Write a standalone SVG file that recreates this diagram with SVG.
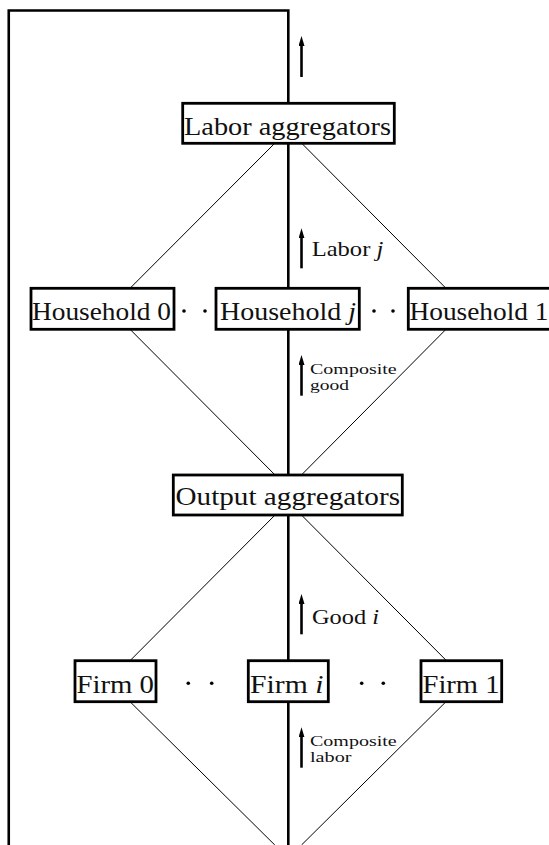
<svg xmlns="http://www.w3.org/2000/svg" width="549" height="845" viewBox="0 0 549 845">
<style>
.thick{stroke:#000;stroke-width:2.6;fill:none}
.thin{stroke:#000;stroke-width:1;fill:none}
.box{fill:#fff;stroke:#000;stroke-width:2.8}
.big{font-family:"Liberation Serif","Times New Roman",serif;font-size:26px;fill:#111}
.mid{font-family:"Liberation Serif","Times New Roman",serif;font-size:21px;fill:#111}
.sm{font-family:"Liberation Serif","Times New Roman",serif;font-size:14px;fill:#111}
.dot{fill:#000}
</style>
<defs>
<marker id="ah" viewBox="0 0 10 6" refX="3" refY="3" markerWidth="10" markerHeight="6" markerUnits="userSpaceOnUse" orient="auto">
<path d="M0,0 L10,3 L0,6 z" fill="#000"/>
</marker>
</defs>
<g id="connectors">
<path class="thick" d="M8.75,845 V10.5 H288.3 V845"/>
<line class="thin" x1="288" y1="130" x2="130" y2="288.3"/>
<line class="thin" x1="288.5" y1="130" x2="446" y2="288.3"/>
<line class="thin" x1="130" y1="329.3" x2="288" y2="488"/>
<line class="thin" x1="446" y1="329.3" x2="288.5" y2="488"/>
<line class="thin" x1="288" y1="502" x2="130" y2="660.7"/>
<line class="thin" x1="288.5" y1="502" x2="446.5" y2="660.7"/>
<line class="thin" x1="130" y1="701.7" x2="274.8" y2="845"/>
<line class="thin" x1="446" y1="701.7" x2="301.5" y2="845"/>
<line class="thick" x1="301.5" y1="77" x2="301.5" y2="43" marker-end="url(#ah)"/>
<line class="thick" x1="301.5" y1="268.3" x2="301.5" y2="235.3" marker-end="url(#ah)"/>
<line class="thick" x1="301.5" y1="395.7" x2="301.5" y2="362" marker-end="url(#ah)"/>
<line class="thick" x1="301.5" y1="634.3" x2="301.5" y2="601" marker-end="url(#ah)"/>
<line class="thick" x1="301.5" y1="767.7" x2="301.5" y2="734.3" marker-end="url(#ah)"/>
</g>
<g id="labels">
<text class="mid" x="311.7" y="256" textLength="71.6" lengthAdjust="spacingAndGlyphs">Labor <tspan font-style="italic">j</tspan></text>
<text class="sm" x="310" y="373.5" textLength="86.7" lengthAdjust="spacingAndGlyphs">Composite</text>
<text class="sm" x="310" y="389.5" textLength="39" lengthAdjust="spacingAndGlyphs">good</text>
<text class="mid" x="312" y="624" textLength="67" lengthAdjust="spacingAndGlyphs">Good <tspan font-style="italic">i</tspan></text>
<text class="sm" x="310" y="746" textLength="86.7" lengthAdjust="spacingAndGlyphs">Composite</text>
<text class="sm" x="310" y="762" textLength="41.5" lengthAdjust="spacingAndGlyphs">labor</text>
</g>
<g id="labor-aggregators">
<rect class="box" x="182.7" y="103.3" width="211.6" height="40"/>
<text class="big" x="184" y="134.5" textLength="207" lengthAdjust="spacingAndGlyphs">Labor aggregators</text>
</g>
<g id="household-0">
<rect class="box" x="31" y="288.3" width="143" height="41"/>
<text class="big" x="32" y="319.5" textLength="139" lengthAdjust="spacingAndGlyphs">Household 0</text>
</g>
<g id="household-j">
<rect class="box" x="216" y="288.3" width="143.3" height="41"/>
<text class="big" x="220" y="319.5" textLength="136" lengthAdjust="spacingAndGlyphs">Household <tspan font-style="italic">j</tspan></text>
</g>
<g id="household-1">
<rect class="box" x="408.3" y="288.3" width="145" height="41"/>
<text class="big" x="409.5" y="319.5" textLength="139" lengthAdjust="spacingAndGlyphs">Household 1</text>
</g>
<g id="household-dots">
<circle class="dot" cx="184" cy="311" r="1.8"/>
<circle class="dot" cx="205" cy="311" r="1.8"/>
<circle class="dot" cx="374" cy="311" r="1.8"/>
<circle class="dot" cx="393" cy="311" r="1.8"/>
</g>
<g id="output-aggregators">
<rect class="box" x="173.3" y="475" width="229" height="40"/>
<text class="big" x="175.5" y="505" textLength="224.5" lengthAdjust="spacingAndGlyphs">Output aggregators</text>
</g>
<g id="firm-0">
<rect class="box" x="75" y="660.7" width="81" height="41"/>
<text class="big" x="76.5" y="692.5" textLength="77.5" lengthAdjust="spacingAndGlyphs">Firm 0</text>
</g>
<g id="firm-i">
<rect class="box" x="248.3" y="660.7" width="80" height="41"/>
<text class="big" x="250" y="692.5" textLength="73.5" lengthAdjust="spacingAndGlyphs">Firm <tspan font-style="italic">i</tspan></text>
</g>
<g id="firm-1">
<rect class="box" x="421" y="660.7" width="80.7" height="41"/>
<text class="big" x="422.5" y="692.5" textLength="77" lengthAdjust="spacingAndGlyphs">Firm 1</text>
</g>
<g id="firm-dots">
<circle class="dot" cx="188.3" cy="683.3" r="1.8"/>
<circle class="dot" cx="211.7" cy="683.3" r="1.8"/>
<circle class="dot" cx="361.7" cy="683.3" r="1.8"/>
<circle class="dot" cx="383.3" cy="683.3" r="1.8"/>
</g>
</svg>
